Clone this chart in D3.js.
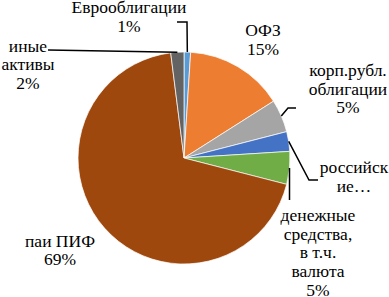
<!DOCTYPE html>
<html>
<head>
<meta charset="utf-8">
<script src="https://d3js.org/d3.v7.min.js"></script>
<style>
  body { margin: 0; background: #fff; }
</style>
</head>
<body>
<svg width="389" height="297"></svg>
<script>
    // data, clockwise from 12 o'clock
    var categories = ["Еврооблигации", "ОФЗ", "корп.рубл. облигации", "российские эмитенты", "денежные средства, в т.ч. валюта", "паи ПИФ", "иные активы"];
    var shares = [1, 15, 5, 3, 5, 69, 2];
    var labelLines = [
        ["Еврооблигации", "1%"],
        ["ОФЗ", "15%"],
        ["корп.рубл.", "облигации", "5%"],
        ["российск", "ие…"],
        ["денежные", "средства,", "в т.ч.", "валюта", "5%"],
        ["паи ПИФ", "69%"],
        ["иные", "активы", "2%"]
    ];
    var colors = ["#5B9BD5", "#ED7D31", "#A5A5A5", "#4472C4", "#70AD47", "#9E480E", "#636363"];

    // layout: baseline of first line, leader path after the slice edge (null = no leader)
    var labelLayout = [
        {x: 129, y: 13, leader: [[187, 22], [177, 22]]},
        {x: 263, y: 36, leader: null},
        {x: 348, y: 76, leader: [[288, 108], [296, 108]]},
        {x: 354, y: 173, leader: [[309, 180], [318, 180]]},
        {x: 318, y: 221, leader: [[289.5, 200]]},
        {x: 60, y: 246.5, leader: null},
        {x: 28, y: 51.5, leader: [[48, 50]]}
    ];

    var svg = d3.select("svg");
    var cx = 184, cy = 158, r = 106;
    var lineH = 18.7;

    var pie = d3.pie().sort(null).value(function(d) { return d; });
    var arcs = pie(shares);
    var arc = d3.arc().innerRadius(0).outerRadius(r);

    var g = svg.append("g").attr("transform", "translate(" + cx + "," + cy + ")");

    g.selectAll("path.slice")
        .data(arcs)
        .enter().append("path")
        .attr("class", "slice")
        .attr("d", arc)
        .attr("fill", function(d, i) { return colors[i]; })
        .attr("stroke", "#fff")
        .attr("stroke-width", 0.7);

    // leader lines start at the slice's outer edge midpoint
    arcs.forEach(function(d, i) {
        var lay = labelLayout[i];
        if (!lay.leader) return;
        var a = (d.startAngle + d.endAngle) / 2;
        var pts = [[cx + r * Math.sin(a), cy - r * Math.cos(a)]].concat(lay.leader);
        svg.append("path")
            .attr("d", d3.line()(pts))
            .attr("fill", "none")
            .attr("stroke", "#000")
            .attr("stroke-width", 1.5);
    });

    // labels
    labelLines.forEach(function(lines, i) {
        var lay = labelLayout[i];
        var t = svg.append("text")
            .attr("text-anchor", "middle")
            .attr("font-family", "Liberation Serif")
            .attr("font-size", 17.5)
            .attr("fill", "#000")
            .attr("x", lay.x)
            .attr("y", lay.y);
        lines.forEach(function(s, j) {
            t.append("tspan")
                .attr("x", lay.x)
                .attr("y", lay.y + j * lineH)
                .text(s);
        });
    });
</script>
</body>
</html>
